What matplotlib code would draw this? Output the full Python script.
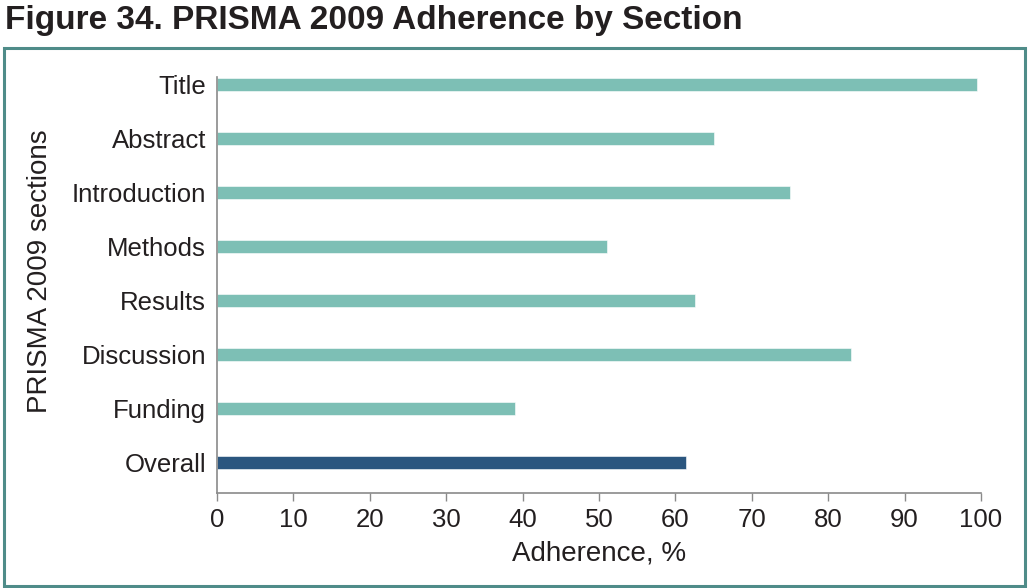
import matplotlib.pyplot as plt
from matplotlib.patches import Rectangle

plt.rcParams['font.family'] = ['Liberation Sans', 'DejaVu Sans']
plt.rcParams['text.color'] = "#231f20"
plt.rcParams['axes.labelcolor'] = "#231f20"
plt.rcParams['xtick.labelcolor'] = "#231f20"
plt.rcParams['ytick.labelcolor'] = "#231f20"

# ───── DATA ─────
sections = ["Title", "Abstract", "Introduction", "Methods", "Results",
            "Discussion", "Funding", "Overall"]
adherence = [99.5, 65, 75, 51, 62.6, 83, 39, 61.4]
bar_colors = ["#7dbfb5"] * 7 + ["#2b567f"]

# ───── FIGURE ─────
fig = plt.figure(figsize=(10.28, 5.88), dpi=100)
fig.text(0.005, 0.965, "Figure 34. PRISMA 2009 Adherence by Section",
         fontsize=24, fontweight="bold", ha="left", va="center")

# teal frame around the chart
fig.patches.append(Rectangle((4 / 1028, 2 / 588), 1021 / 1028, 538 / 588,
                             transform=fig.transFigure, fill=False,
                             edgecolor="#4f8c89", linewidth=2.2))

ax = fig.add_axes([217 / 1028, 1 - 493 / 588, 764 / 1028, 416 / 588])
ypos = list(range(len(sections)))[::-1]
ax.barh(ypos, adherence, height=0.24, color=bar_colors,
        edgecolor="white", linewidth=0.4)

ax.set_xlim(0, 100)
ax.set_ylim(-0.57, 7.13)
ax.set_xticks(range(0, 101, 10))
ax.set_yticks(ypos)
ax.set_yticklabels(sections)

for s in ["top", "right"]:
    ax.spines[s].set_visible(False)
for s in ["left", "bottom"]:
    ax.spines[s].set_color("#8a8a8a")
    ax.spines[s].set_linewidth(1.2)

ax.tick_params(axis="y", length=0, pad=8, labelsize=18.5)
ax.tick_params(axis="x", length=6, width=1, color="#8a8a8a", pad=5, labelsize=18.5)

ax.set_xlabel("Adherence, %", fontsize=20, labelpad=6)
ax.set_ylabel("PRISMA 2009 sections", fontsize=20)
ax.yaxis.set_label_coords(-0.2147, 0.534)

fig.savefig("out.png", dpi=100)
